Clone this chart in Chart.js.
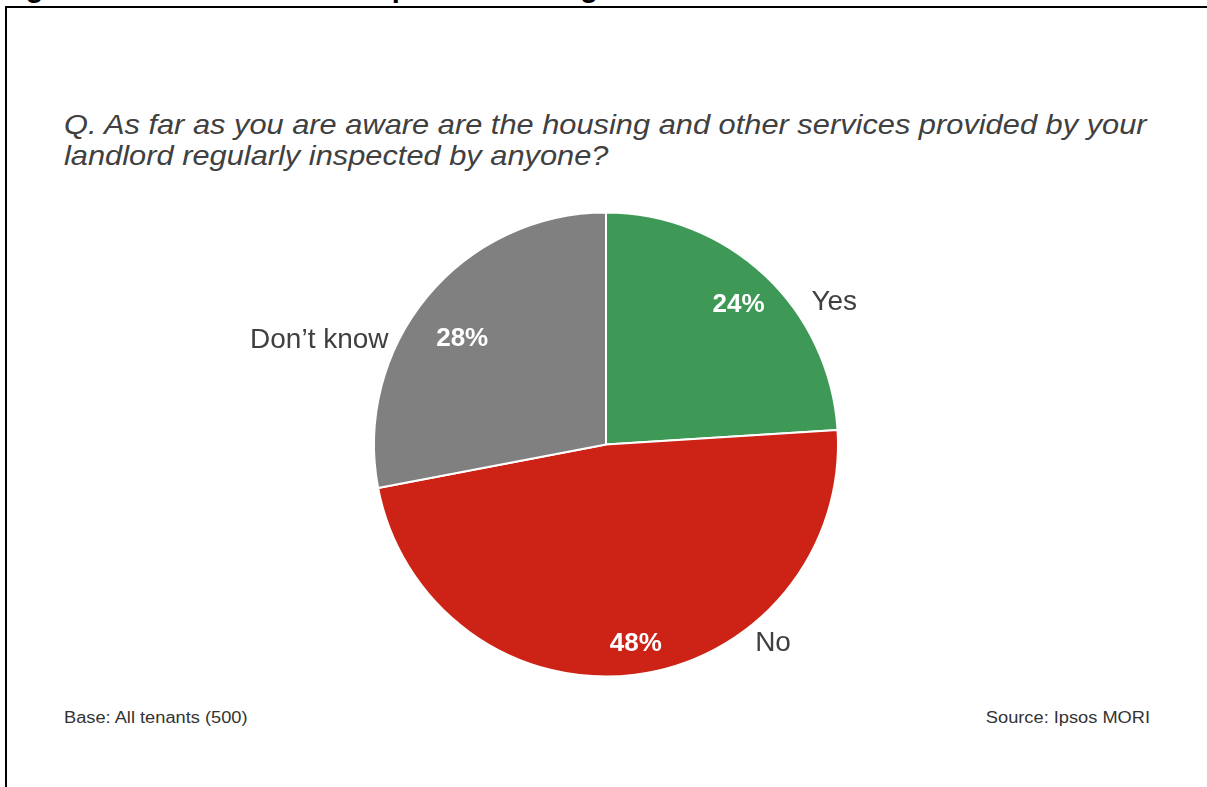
<!DOCTYPE html>
<html>
<head>
<meta charset="utf-8">
<script src="https://cdn.jsdelivr.net/npm/chart.js@4.4.0/dist/chart.umd.min.js"></script>
<style>
  html, body { margin: 0; padding: 0; background: #fff; overflow: hidden; }
  body { width: 1207px; height: 787px; position: relative; font-family: "Liberation Sans", Arial, sans-serif; }
  #heading { position: absolute; left: 0; top: -27px; font-size: 29px; line-height: 29px; font-weight: bold; color: #000; white-space: nowrap; }
  #frame { position: absolute; left: 5px; top: 6px; width: 1220px; height: 900px; border: 2px solid #000; box-sizing: border-box; }
  #question { position: absolute; left: 64px; top: 109px; font-size: 28px; line-height: 31px; font-style: italic; color: #404040; white-space: nowrap; transform: scaleX(1.1); transform-origin: left top; }
  .foot { position: absolute; top: 709px; font-size: 16px; color: #333; white-space: nowrap; transform: scaleX(1.14); }
  #base { left: 64px; transform-origin: left top; }
  #source { right: 57px; transform-origin: right top; }
  #wrap { position: absolute; left: 0; top: 0; width: 1207px; height: 787px; }
</style>
</head>
<body>
<div id="heading">Figure 3.1: Awareness of inspection among tenants</div>
<div id="frame"></div>
<div id="question">Q. As far as you are aware are the housing and other services provided by your<br>landlord regularly inspected by anyone?</div>
<div class="foot" id="base">Base: All tenants (500)</div>
<div class="foot" id="source">Source: Ipsos MORI</div>
<div id="wrap"><canvas id="pieChart"></canvas></div>

<script>
// datos del gráfico
const categories = ['Yes', 'No', 'Don\u2019t know'];
const values = [24, 48, 28];
const valueLabels = ['24%', '48%', '28%'];
const colors = ['#3e9856', '#cc2316', '#808080'];

// posición de las etiquetas: ángulo (grados desde arriba) y radio relativo
const innerSpots = [
  { angle: 43.5, r: 0.83 },
  { angle: 171.5, r: 0.87 },
  { angle: 306.4, r: 0.77 }
];
const outerSpots = [
  { angle: 58, r: 1.16 },
  { angle: 140, r: 1.12 },
  { angle: 290, r: 1.315 }
];

const toRad = deg => (deg - 90) * Math.PI / 180;

// plugin propio para dibujar porcentajes y nombres de categoría
const pieLabels = {
  id: 'pieLabels',
  afterDatasetsDraw(chart) {
    const ctx = chart.ctx;
    const meta = chart.getDatasetMeta(0);
    ctx.save();
    ctx.textAlign = 'center';
    ctx.textBaseline = 'middle';
    meta.data.forEach((arc, i) => {
      const { x, y, outerRadius } = arc.getProps(['x', 'y', 'outerRadius'], true);

      const ai = toRad(innerSpots[i].angle);
      const ri = outerRadius * innerSpots[i].r;
      ctx.fillStyle = '#ffffff';
      ctx.font = 'bold 26px "Liberation Sans", Arial, sans-serif';
      ctx.fillText(valueLabels[i], x + Math.cos(ai) * ri, y + Math.sin(ai) * ri);

      const ao = toRad(outerSpots[i].angle);
      const ro = outerRadius * outerSpots[i].r;
      ctx.fillStyle = '#404040';
      ctx.font = '28px "Liberation Sans", Arial, sans-serif';
      ctx.fillText(categories[i], x + Math.cos(ao) * ro, y + Math.sin(ao) * ro);
    });
    ctx.restore();
  }
};

new Chart(document.getElementById('pieChart').getContext('2d'), {
  type: 'pie',
  data: {
    labels: categories,
    datasets: [{
      data: values,
      backgroundColor: colors,
      borderColor: '#ffffff',
      borderWidth: 2
    }]
  },
  options: {
    responsive: true,
    maintainAspectRatio: false,
    animation: false,
    radius: 232,
    layout: {
      padding: { left: 105, right: 100, top: 200, bottom: 98 }
    },
    plugins: {
      legend: { display: false },
      tooltip: { enabled: false },
      title: { display: false }
    }
  },
  plugins: [pieLabels]
});
</script>
</body>
</html>
